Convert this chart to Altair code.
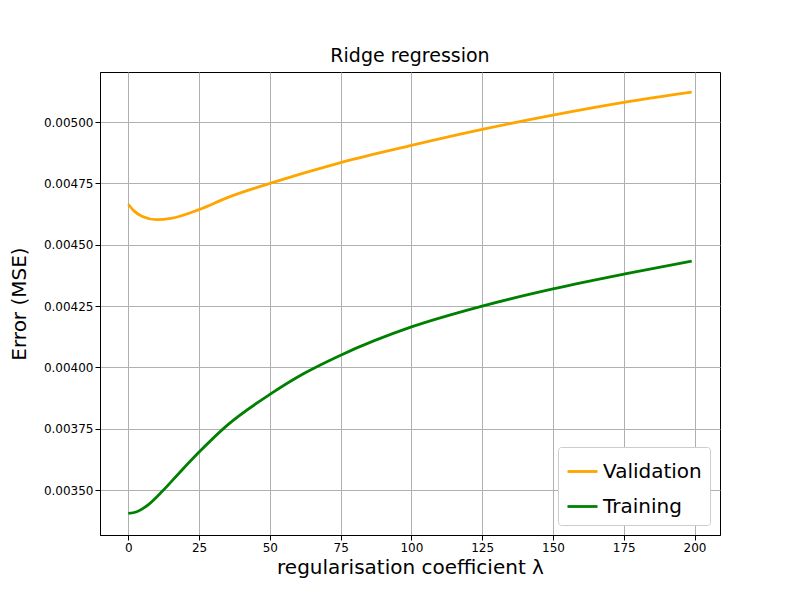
import altair as alt
import pandas as pd

val_x = [0, 2, 5, 10, 15, 25, 35, 50, 75, 100, 125, 150, 175, 199]
val_y = [0.004665, 0.004638, 0.004615, 0.004602, 0.004607, 0.004643, 0.004692, 0.00475,
         0.004835, 0.004905, 0.00497, 0.005028, 0.00508, 0.005122]
train_x = [0, 3, 7, 12, 18, 25, 35, 50, 62, 75, 100, 125, 150, 175, 199]
train_y = [0.003405, 0.003412, 0.00344, 0.003495, 0.00357, 0.003655, 0.003765, 0.00389,
           0.003975, 0.00405, 0.004165, 0.00425, 0.00432, 0.00438, 0.004433]

df = pd.concat([
    pd.DataFrame({"lam": val_x, "err": val_y, "series": "Validation"}),
    pd.DataFrame({"lam": train_x, "err": train_y, "series": "Training"}),
])

y_ticks = [0.0035 + 0.00025 * i for i in range(7)]

chart = (
    alt.Chart(df, title=alt.Title("Ridge regression", fontSize=19, fontWeight="normal", offset=6))
    .mark_line(strokeWidth=2.8, interpolate="monotone")
    .encode(
        alt.X("lam:Q", scale=alt.Scale(domain=[-10, 209], nice=False, zero=False),
              axis=alt.Axis(values=list(range(0, 201, 25)), titleFontSize=20,
                            title="regularisation coefficient λ")),
        alt.Y("err:Q", scale=alt.Scale(domain=[0.003317, 0.005204], nice=False, zero=False),
              axis=alt.Axis(values=y_ticks, format=".5f", titleFontSize=20, titlePadding=14,
                            title="Error (MSE)")),
        alt.Color("series:N", sort=["Validation", "Training"],
                  scale=alt.Scale(domain=["Validation", "Training"], range=["orange", "green"]),
                  legend=alt.Legend(title=None, orient="bottom-right", labelFontSize=20,
                                    symbolType="stroke", symbolStrokeWidth=2.8, symbolSize=900,
                                    fillColor="white", strokeColor="#ccc", padding=8,
                                    rowPadding=8, offset=10, cornerRadius=3)),
        order=alt.value(0),
    )
    .properties(width=620, height=463, padding={"left": 92, "top": 64, "right": 72, "bottom": 57},
                autosize=alt.AutoSizeParams(type="none"))
    .configure(font="DejaVu Sans")
    .configure_axis(grid=True, gridColor="#b0b0b0", labelFontSize=12, titleFontWeight="normal",
                    domainColor="black", tickColor="black", labelColor="black", titleColor="black")
    .configure_view(stroke="black")
)

chart.save("out.html", embed_options={"renderer": "svg", "actions": False})
